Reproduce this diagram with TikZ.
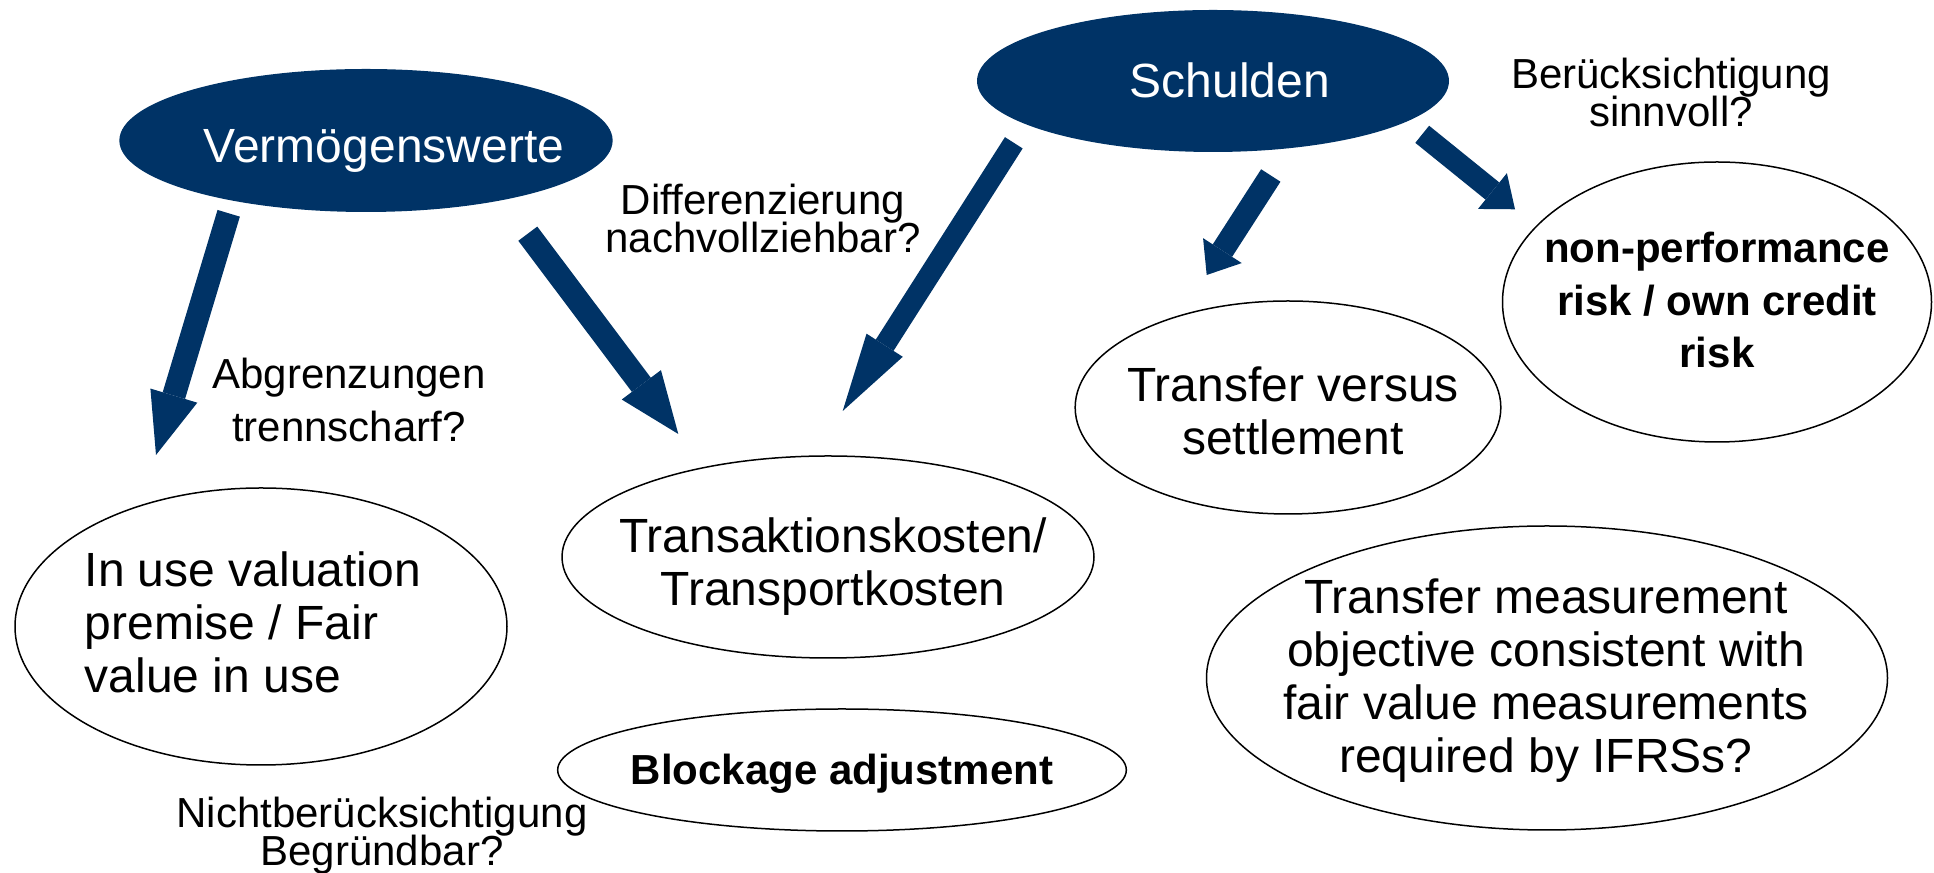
\documentclass[tikz,border=0pt]{standalone}
\usepackage{fontspec}
\setmainfont{Liberation Sans}
\usetikzlibrary{shapes.geometric,arrows.meta}
\definecolor{navy}{RGB}{0,51,102}
\newcommand{\tightskip}{\lineskiplimit=-20pt\relax}
\begin{document}
\begin{tikzpicture}[x=0.3pt,y=-0.3pt,
  bubble/.style={ellipse, draw=black, line width=0.45pt, fill=white, inner sep=0pt, outer sep=0pt},
  dark/.style={ellipse, fill=navy, draw=none, inner sep=0pt, outer sep=0pt},
  bigtxt/.style={inner sep=0pt, align=center, font=\fontsize{14.4pt}{15.9pt}\selectfont\tightskip},
  hdtxt/.style={inner sep=0pt, align=center, text=white, font=\fontsize{14.4pt}{15.9pt}\selectfont},
  qtxt/.style={inner sep=0pt, align=center, font=\fontsize{12.6pt}{11.4pt}\selectfont\tightskip},
  qtxtwide/.style={inner sep=0pt, align=center, font=\fontsize{12.6pt}{15.9pt}\selectfont\tightskip},
  boldtxt/.style={inner sep=0pt, align=center, font=\fontsize{12.6pt}{15.75pt}\bfseries\selectfont\tightskip},
  fat/.style n args={3}{draw=navy, line width=#1, -{Triangle[length=#3, width=#2, line width=0pt]}}
]
\useasboundingbox (0,0) rectangle (1934,873);

% dark ellipses
\node[dark, minimum width=148pt, minimum height=42.9pt] (verm) at (366,140.5) {};
\node[hdtxt] (verm-t) at (384,150.5) {Vermögenswerte};
\node[dark, minimum width=141.6pt, minimum height=42.6pt] (schul) at (1213,81) {};
\node[hdtxt] (schul-t) at (1230,80.7) {Schulden};

% white ellipses
\node[bubble, minimum width=147.6pt, minimum height=83.1pt] (inuse) at (261,626.5) {};
\node[bigtxt, align=left, anchor=west] (inuse-t) at (84,622.7) {In use valuation\\premise / Fair\\value in use};

\node[bubble, minimum width=159.6pt, minimum height=60.6pt] (trans) at (828,557) {};
\node[bigtxt] (trans-t) at (833,566.5) {Transaktionskosten/\\Transportkosten};

\node[bubble, minimum width=170.6pt, minimum height=36.6pt] (block) at (842,770) {};
\node[boldtxt] (block-t) at (842,774) {Blockage adjustment};

\node[bubble, minimum width=127.7pt, minimum height=63.9pt] (tvs) at (1288,407.5) {};
\node[bigtxt] (tvs-t) at (1293,411) {Transfer versus\\settlement};

\node[bubble, minimum width=128.7pt, minimum height=84pt] (npr) at (1717,302) {};
\node[boldtxt] (npr-t) at (1717,300) {non-performance\\risk / own credit\\risk};

\node[bubble, minimum width=204.3pt, minimum height=91.2pt] (tm) at (1547,678) {};
\node[bigtxt] (tm-t) at (1546,680.7) {Transfer measurement\\objective consistent with\\fair value measurements\\required by IFRSs?};

% question labels
\node[qtxt] (q1) at (763,218.7) {Differenzierung\\nachvollziehbar?};
\node[qtxtwide] (q2) at (349,400) {Abgrenzungen\\trennscharf?};
\node[qtxt] (q3) at (1671,92.7) {Berücksichtigung\\sinnvoll?};
\node[qtxt] (q4) at (382,835.5) {Nichtberücksichtigung\\Begründbar?};

% arrows
\coordinate (aA1) at (228.7,213.3); \coordinate (aA2) at (156,455);
\coordinate (aB1) at (527.8,233.7); \coordinate (aB2) at (678.3,434);
\coordinate (aC1) at (1013.8,142.8); \coordinate (aC2) at (842.7,411);
\coordinate (aD1) at (1270.8,175.5); \coordinate (aD2) at (1206.7,275);
\coordinate (aE1) at (1422.2,134.3); \coordinate (aE2) at (1515,209.3);
\draw[fat={7pt}{14.7pt}{18.6pt}] (aA1) -- (aA2);
\draw[fat={7.1pt}{14.7pt}{18.45pt}] (aB1) -- (aB2);
\draw[fat={6.3pt}{12.9pt}{23.4pt}] (aC1) -- (aC2);
\draw[fat={6.9pt}{13.8pt}{8.7pt}] (aD1) -- (aD2);
\draw[fat={6.6pt}{13.8pt}{8.7pt}] (aE1) -- (aE2);
\end{tikzpicture}
\end{document}
